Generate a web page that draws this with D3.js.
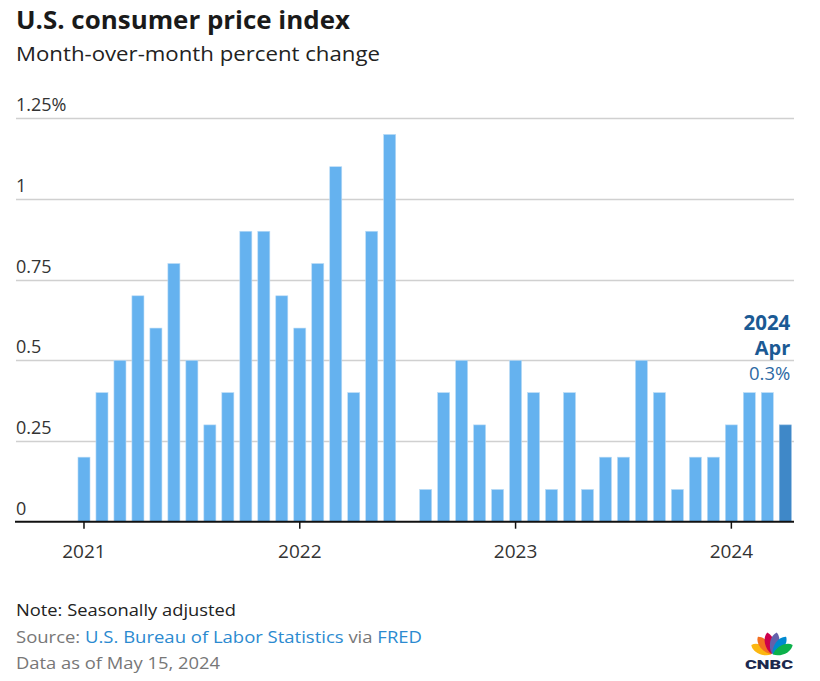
<!DOCTYPE html>
<html>
<head>
<meta charset="utf-8">
<script src="https://cdn.jsdelivr.net/npm/d3@7"></script>
<style>
  html, body { margin: 0; padding: 0; background: #fff; }
  svg { display: block; font-family: "Open Sans", Lato, sans-serif; }
</style>
</head>
<body>
<div id="chart"></div>
<script>
// ---- data ----
const months = [
  "2021-01","2021-02","2021-03","2021-04","2021-05","2021-06","2021-07","2021-08","2021-09","2021-10","2021-11","2021-12",
  "2022-01","2022-02","2022-03","2022-04","2022-05","2022-06","2022-07","2022-08","2022-09","2022-10","2022-11","2022-12",
  "2023-01","2023-02","2023-03","2023-04","2023-05","2023-06","2023-07","2023-08","2023-09","2023-10","2023-11","2023-12",
  "2024-01","2024-02","2024-03","2024-04"
];
const cpiChange = [
  0.2, 0.4, 0.5, 0.7, 0.6, 0.8, 0.5, 0.3, 0.4, 0.9, 0.9, 0.7,
  0.6, 0.8, 1.1, 0.4, 0.9, 1.2, 0.0, 0.1, 0.4, 0.5, 0.3, 0.1,
  0.5, 0.4, 0.1, 0.4, 0.1, 0.2, 0.2, 0.5, 0.4, 0.1, 0.2, 0.2,
  0.3, 0.4, 0.4, 0.3
];
const yTicks = [0, 0.25, 0.5, 0.75, 1, 1.25];
const yTickLabels = ["0", "0.25", "0.5", "0.75", "1", "1.25%"];
const xTickMonths = ["2021-01", "2022-01", "2023-01", "2024-01"];
const xTickLabels = ["2021", "2022", "2023", "2024"];
const latestLabel = ["2024", "Apr", "0.3%"];

const W = 820, H = 681;
const svg = d3.select("#chart").append("svg").attr("width", W).attr("height", H);

const x = d3.scaleBand().domain(months).range([75, 794.3]).paddingInner(0.33).paddingOuter(0.165);
const y = d3.scaleLinear().domain([0, 1.25]).range([521.7, 118.3]);

// title
svg.append("text").attr("x", 16).attr("y", 29).attr("font-size", 24.5).attr("font-weight", 700)
  .attr("fill", "#1a1a1a").attr("textLength", 334).attr("lengthAdjust", "spacingAndGlyphs")
  .text("U.S. consumer price index");
svg.append("text").attr("x", 16).attr("y", 61).attr("font-size", 19.5).attr("fill", "#222")
  .attr("textLength", 364).attr("lengthAdjust", "spacingAndGlyphs")
  .text("Month-over-month percent change");

// gridlines
const grid = svg.append("g");
grid.selectAll("line").data(yTicks.filter(d => d > 0)).join("line")
  .attr("x1", 16).attr("x2", 794)
  .attr("y1", d => Math.round(y(d)) + 0.5).attr("y2", d => Math.round(y(d)) + 0.5)
  .attr("stroke", "#d0d0d0").attr("stroke-width", 1.3);
grid.selectAll("text").data(yTicks).join("text")
  .attr("x", 16).attr("y", d => y(d) - 7)
  .attr("font-size", 18).attr("fill", "#333")
  .text((d, i) => yTickLabels[i]);

// bars
svg.append("g").selectAll("rect").data(months).join("rect")
  .attr("x", d => x(d))
  .attr("width", x.bandwidth())
  .attr("y", (d, i) => y(cpiChange[i]))
  .attr("height", (d, i) => y(0) - y(cpiChange[i]))
  .attr("fill", (d, i) => i === months.length - 1 ? "#3f88c8" : "#65b2ef")
  .attr("stroke", (d, i) => i === months.length - 1 ? "#8fbbe2" : "#bcdcf6")
  .attr("stroke-width", 0.6);

// x axis
const xAxis = svg.append("g");
xAxis.append("line").attr("x1", 15).attr("x2", 794).attr("y1", y(0)).attr("y2", y(0))
  .attr("stroke", "#111").attr("stroke-width", 2);
xAxis.selectAll("line.tick").data(xTickMonths).join("line").attr("class", "tick")
  .attr("x1", d => x(d) + x.bandwidth() / 2).attr("x2", d => x(d) + x.bandwidth() / 2)
  .attr("y1", y(0)).attr("y2", y(0) + 7)
  .attr("stroke", "#111").attr("stroke-width", 1.5);
xAxis.selectAll("text").data(xTickMonths).join("text")
  .attr("x", d => x(d) + x.bandwidth() / 2).attr("y", 558)
  .attr("text-anchor", "middle").attr("font-size", 19).attr("fill", "#333")
  .text((d, i) => xTickLabels[i]);

// annotation
const lastM = months[months.length - 1];
const ann = svg.append("g").attr("text-anchor", "end");
const annX = x(lastM) + x.bandwidth() - 1;
ann.append("text").attr("x", annX).attr("y", 330).attr("font-size", 20.5).attr("font-weight", 700)
  .attr("fill", "#1b5a94").text(latestLabel[0]);
ann.append("text").attr("x", annX).attr("y", 355).attr("font-size", 20).attr("font-weight", 700)
  .attr("fill", "#1b5a94").text(latestLabel[1]);
ann.append("text").attr("x", annX).attr("y", 380).attr("font-size", 18.5)
  .attr("fill", "#2d6aa4").text(latestLabel[2]);

// footer
svg.append("text").attr("x", 16).attr("y", 616).attr("font-size", 17).attr("fill", "#222")
  .attr("textLength", 220).attr("lengthAdjust", "spacingAndGlyphs")
  .text("Note: Seasonally adjusted");
const src = svg.append("text").attr("x", 16).attr("y", 643).attr("font-size", 17).attr("fill", "#777")
  .attr("textLength", 406).attr("lengthAdjust", "spacingAndGlyphs");
src.append("tspan").text("Source: ");
src.append("tspan").attr("fill", "#2b8ad0").text("U.S. Bureau of Labor Statistics");
src.append("tspan").text(" via ");
src.append("tspan").attr("fill", "#2b8ad0").text("FRED");
svg.append("text").attr("x", 16).attr("y", 669).attr("font-size", 17).attr("fill", "#777")
  .attr("textLength", 204).attr("lengthAdjust", "spacingAndGlyphs")
  .text("Data as of May 15, 2024");

// CNBC logo
const logo = svg.append("g").attr("transform", "translate(772,655)");
const feathers = [
  { a: -64, c: "#fcb711" },
  { a: -38, c: "#f37021" },
  { a: -12, c: "#cc004c" },
  { a: 12, c: "#6460aa" },
  { a: 38, c: "#0089d0" },
  { a: 64, c: "#0db14b" }
];
logo.selectAll("path").data(feathers).join("path")
  .attr("d", "M0,-1 C-6,-7 -6,-19 0,-23 C6,-19 6,-7 0,-1 Z")
  .attr("transform", d => `rotate(${d.a})`)
  .attr("fill", d => d.c);
svg.append("text").attr("x", 769).attr("y", 668.5).attr("text-anchor", "middle")
  .attr("font-size", 13).attr("font-weight", 900).attr("fill", "#1c2a4e")
  .attr("textLength", 48).attr("lengthAdjust", "spacingAndGlyphs")
  .attr("font-family", "Roboto, Lato, sans-serif").text("CNBC");
</script>
</body>
</html>
